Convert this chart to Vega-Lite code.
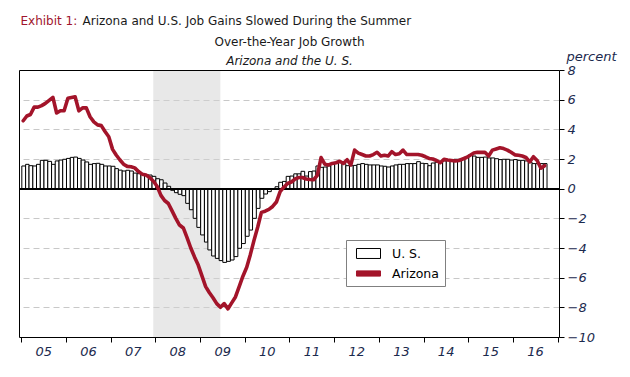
{
"$schema": "https://vega.github.io/schema/vega-lite/v6.json",
"width": 540,
"height": 267,
"autosize": {"type": "none"},
"padding": {"left": 19, "top": 70, "right": 71, "bottom": 40},
"background": "white",
"config": {"view": {"stroke": null}, "font": "DejaVu Sans", "axis": {"titleFontWeight": "normal"}},
"data": {"values": [
{"month":"2005-01-01","us":1.53,"az":4.58},{"month":"2005-02-01","us":1.64,"az":4.9},{"month":"2005-03-01","us":1.55,"az":5.0},{"month":"2005-04-01","us":1.53,"az":5.5},{"month":"2005-05-01","us":1.64,"az":5.5},{"month":"2005-06-01","us":1.91,"az":5.6},{"month":"2005-07-01","us":1.91,"az":5.75},{"month":"2005-08-01","us":1.84,"az":5.95},{"month":"2005-09-01","us":1.64,"az":6.15},{"month":"2005-10-01","us":1.87,"az":5.1},{"month":"2005-11-01","us":1.93,"az":5.25},{"month":"2005-12-01","us":1.98,"az":5.25},
{"month":"2006-01-01","us":2.04,"az":6.1},{"month":"2006-02-01","us":2.11,"az":6.15},{"month":"2006-03-01","us":2.13,"az":6.2},{"month":"2006-04-01","us":2.04,"az":5.25},{"month":"2006-05-01","us":1.93,"az":5.45},{"month":"2006-06-01","us":1.80,"az":5.45},{"month":"2006-07-01","us":1.64,"az":4.85},{"month":"2006-08-01","us":1.69,"az":4.5},{"month":"2006-09-01","us":1.71,"az":4.3},{"month":"2006-10-01","us":1.64,"az":4.25},{"month":"2006-11-01","us":1.53,"az":3.85},{"month":"2006-12-01","us":1.53,"az":3.5},
{"month":"2007-01-01","us":1.51,"az":2.65},{"month":"2007-02-01","us":1.35,"az":2.27},{"month":"2007-03-01","us":1.25,"az":1.95},{"month":"2007-04-01","us":1.19,"az":1.65},{"month":"2007-05-01","us":1.24,"az":1.5},{"month":"2007-06-01","us":1.19,"az":1.48},{"month":"2007-07-01","us":1.05,"az":1.4},{"month":"2007-08-01","us":1.01,"az":1.15},{"month":"2007-09-01","us":0.99,"az":0.98},{"month":"2007-10-01","us":0.94,"az":0.92},{"month":"2007-11-01","us":0.92,"az":0.75},{"month":"2007-12-01","us":0.83,"az":0.5},
{"month":"2008-01-01","us":0.67,"az":0.15},{"month":"2008-02-01","us":0.60,"az":-0.45},{"month":"2008-03-01","us":0.38,"az":-0.8},{"month":"2008-04-01","us":0.16,"az":-1.0},{"month":"2008-05-01","us":-0.11,"az":-1.5},{"month":"2008-06-01","us":-0.27,"az":-2.0},{"month":"2008-07-01","us":-0.38,"az":-2.45},{"month":"2008-08-01","us":-0.47,"az":-2.65},{"month":"2008-09-01","us":-0.99,"az":-3.3},{"month":"2008-10-01","us":-1.42,"az":-4.0},{"month":"2008-11-01","us":-2.0,"az":-4.6},{"month":"2008-12-01","us":-2.61,"az":-5.15},
{"month":"2009-01-01","us":-3.12,"az":-5.9},{"month":"2009-02-01","us":-3.6,"az":-6.6},{"month":"2009-03-01","us":-4.13,"az":-7.0},{"month":"2009-04-01","us":-4.54,"az":-7.35},{"month":"2009-05-01","us":-4.7,"az":-7.75},{"month":"2009-06-01","us":-4.85,"az":-8.0},{"month":"2009-07-01","us":-4.97,"az":-7.75},{"month":"2009-08-01","us":-4.9,"az":-8.1},{"month":"2009-09-01","us":-4.81,"az":-7.7},{"month":"2009-10-01","us":-4.58,"az":-7.3},{"month":"2009-11-01","us":-4.02,"az":-6.6},{"month":"2009-12-01","us":-3.7,"az":-5.9},
{"month":"2010-01-01","us":-3.21,"az":-5.3},{"month":"2010-02-01","us":-2.79,"az":-4.45},{"month":"2010-03-01","us":-2.0,"az":-3.5},{"month":"2010-04-01","us":-1.33,"az":-2.6},{"month":"2010-05-01","us":-0.65,"az":-1.6},{"month":"2010-06-01","us":-0.36,"az":-1.52},{"month":"2010-07-01","us":-0.2,"az":-1.4},{"month":"2010-08-01","us":-0.02,"az":-1.2},{"month":"2010-09-01","us":0.13,"az":-0.9},{"month":"2010-10-01","us":0.43,"az":-0.2},{"month":"2010-11-01","us":0.49,"az":0.1},{"month":"2010-12-01","us":0.83,"az":0.35},
{"month":"2011-01-01","us":0.85,"az":0.45},{"month":"2011-02-01","us":1.0,"az":0.65},{"month":"2011-03-01","us":1.0,"az":0.75},{"month":"2011-04-01","us":1.17,"az":0.75},{"month":"2011-05-01","us":0.85,"az":0.65},{"month":"2011-06-01","us":1.15,"az":0.62},{"month":"2011-07-01","us":1.19,"az":0.6},{"month":"2011-08-01","us":1.53,"az":0.9},{"month":"2011-09-01","us":1.44,"az":2.1},{"month":"2011-10-01","us":1.46,"az":1.65},{"month":"2011-11-01","us":1.53,"az":1.6},{"month":"2011-12-01","us":1.73,"az":1.7},
{"month":"2012-01-01","us":1.78,"az":1.75},{"month":"2012-02-01","us":1.78,"az":1.85},{"month":"2012-03-01","us":1.69,"az":1.7},{"month":"2012-04-01","us":1.55,"az":1.95},{"month":"2012-05-01","us":1.55,"az":1.6},{"month":"2012-06-01","us":1.57,"az":2.6},{"month":"2012-07-01","us":1.64,"az":2.4},{"month":"2012-08-01","us":1.69,"az":2.3},{"month":"2012-09-01","us":1.64,"az":2.2},{"month":"2012-10-01","us":1.6,"az":2.2},{"month":"2012-11-01","us":1.6,"az":2.3},{"month":"2012-12-01","us":1.6,"az":2.45},
{"month":"2013-01-01","us":1.53,"az":2.2},{"month":"2013-02-01","us":1.51,"az":2.25},{"month":"2013-03-01","us":1.46,"az":2.2},{"month":"2013-04-01","us":1.53,"az":2.5},{"month":"2013-05-01","us":1.6,"az":2.3},{"month":"2013-06-01","us":1.64,"az":2.35},{"month":"2013-07-01","us":1.64,"az":2.6},{"month":"2013-08-01","us":1.69,"az":2.3},{"month":"2013-09-01","us":1.69,"az":2.3},{"month":"2013-10-01","us":1.69,"az":2.3},{"month":"2013-11-01","us":1.82,"az":2.3},{"month":"2013-12-01","us":1.71,"az":2.25},
{"month":"2014-01-01","us":1.69,"az":2.15},{"month":"2014-02-01","us":1.55,"az":2.04},{"month":"2014-03-01","us":1.73,"az":2.0},{"month":"2014-04-01","us":1.78,"az":1.9},{"month":"2014-05-01","us":1.84,"az":1.75},{"month":"2014-06-01","us":1.87,"az":1.98},{"month":"2014-07-01","us":1.91,"az":1.93},{"month":"2014-08-01","us":1.96,"az":1.9},{"month":"2014-09-01","us":1.98,"az":1.87},{"month":"2014-10-01","us":1.98,"az":1.9},{"month":"2014-11-01","us":1.98,"az":2.0},{"month":"2014-12-01","us":2.15,"az":2.1},
{"month":"2015-01-01","us":2.29,"az":2.25},{"month":"2015-02-01","us":2.2,"az":2.4},{"month":"2015-03-01","us":2.11,"az":2.45},{"month":"2015-04-01","us":2.11,"az":2.45},{"month":"2015-05-01","us":2.13,"az":2.45},{"month":"2015-06-01","us":2.07,"az":2.2},{"month":"2015-07-01","us":2.07,"az":2.6},{"month":"2015-08-01","us":2.02,"az":2.68},{"month":"2015-09-01","us":1.96,"az":2.76},{"month":"2015-10-01","us":1.98,"az":2.7},{"month":"2015-11-01","us":1.98,"az":2.6},{"month":"2015-12-01","us":1.93,"az":2.45},
{"month":"2016-01-01","us":1.96,"az":2.28},{"month":"2016-02-01","us":1.91,"az":2.25},{"month":"2016-03-01","us":1.91,"az":2.2},{"month":"2016-04-01","us":1.87,"az":2.1},{"month":"2016-05-01","us":1.78,"az":1.8},{"month":"2016-06-01","us":1.69,"az":2.15},{"month":"2016-07-01","us":1.69,"az":1.9},{"month":"2016-08-01","us":1.69,"az":1.38},{"month":"2016-09-01","us":1.69,"az":1.55}
]},
"layer": [
{
 "data": {"values": [{"start": "2007-12-15", "end": "2009-06-15"}]},
 "mark": {"type": "rect", "fill": "#d1d1d1", "opacity": 0.5},
 "encoding": {
  "x": {"field": "start", "type": "temporal",
   "scale": {"type": "utc", "domain": [{"year": 2004, "month": 12, "date": 13, "utc": true}, {"year": 2017, "month": 1, "date": 11, "utc": true}]},
   "axis": {"orient": "top", "domain": true, "domainColor": "black", "domainWidth": 1, "ticks": false, "labels": false, "grid": false, "zindex": 1,
    "title": "Over-the-Year Job Growth", "titleX": 270, "titleY": -25, "titleAlign": "center", "titleBaseline": "alphabetic", "titleAngle": 0,
    "titleFont": "DejaVu Sans", "titleFontSize": 12, "titleFontWeight": "normal", "titleColor": "#1a1a1a"}},
  "x2": {"field": "end"}
 }
},
{
 "transform": [{"fold": ["us", "az"], "as": ["series", "value"]}, {"filter": "datum.series == 'us'"}],
 "mark": {"type": "bar", "fill": "white", "strokeWidth": 1, "binSpacing": 0},
 "encoding": {
  "x": {"field": "month", "type": "temporal", "timeUnit": "utcyearmonth",
   "scale": {"type": "utc", "domain": [{"year": 2004, "month": 12, "date": 13, "utc": true}, {"year": 2017, "month": 1, "date": 11, "utc": true}]},
   "axis": {"orient": "bottom", "values": [
     {"year": 2005, "month": 1, "date": 1, "utc": true}, {"year": 2006, "month": 1, "date": 1, "utc": true}, {"year": 2007, "month": 1, "date": 1, "utc": true},
     {"year": 2008, "month": 1, "date": 1, "utc": true}, {"year": 2009, "month": 1, "date": 1, "utc": true}, {"year": 2010, "month": 1, "date": 1, "utc": true},
     {"year": 2011, "month": 1, "date": 1, "utc": true}, {"year": 2012, "month": 1, "date": 1, "utc": true}, {"year": 2013, "month": 1, "date": 1, "utc": true},
     {"year": 2014, "month": 1, "date": 1, "utc": true}, {"year": 2015, "month": 1, "date": 1, "utc": true}, {"year": 2016, "month": 1, "date": 1, "utc": true},
     {"year": 2017, "month": 1, "date": 1, "utc": true}],
    "format": "%y", "labelExpr": "utcyear(datum.value) > 2016 ? '' : datum.label",
    "labelOffset": 22, "labelAlign": "center", "labelFont": "DejaVu Sans", "labelFontStyle": "italic", "labelFontSize": 13, "labelColor": "#1b2a4e",
    "labelPadding": 3, "labelFlush": false, "labelOverlap": false, "labelBound": false,
    "tickSize": 5, "tickColor": "black", "domainColor": "black", "grid": false, "title": null, "zindex": 1}},
  "y": {"field": "value", "type": "quantitative",
   "scale": {"domain": [-10, 8], "nice": false, "zero": false},
   "axis": {"orient": "right", "values": [-10, -8, -6, -4, -2, 0, 2, 4, 6, 8],
    "grid": true, "gridDash": [6, 4], "gridColor": "#c8c8c8", "gridWidth": 1,
    "domainColor": "black", "tickColor": "black", "tickSize": 5,
    "labelFont": "DejaVu Sans", "labelFontStyle": "italic", "labelFontSize": 13, "labelColor": "#1b2a4e", "labelPadding": 3, "labelFlush": false, "labelOverlap": false,
    "title": "percent", "titleAngle": 0, "titleAlign": "left", "titleBaseline": "alphabetic", "titleX": 7, "titleY": -10,
    "titleFont": "DejaVu Sans", "titleFontStyle": "italic", "titleFontSize": 13, "titleFontWeight": "normal", "titleColor": "#1b2a4e"}},
  "stroke": {"field": "series", "type": "nominal",
   "scale": {"domain": ["us", "az"], "range": ["black", "#a3142a"]},
   "legend": {"orient": "none", "legendX": 327, "legendY": 170, "title": null, "direction": "vertical",
    "padding": 6, "rowPadding": 5, "strokeColor": "#808080", "fillColor": "white",
    "symbolSize": 196, "labelOffset": 25, "labelFont": "DejaVu Sans", "labelFontSize": 12.5, "labelColor": "black",
    "labelExpr": "datum.value == 'us' ? 'U. S.' : 'Arizona'",
    "encode": {"symbols": {"update": {
      "shape": {"signal": "datum.value == 'az' ? 'M-0.43,-0.37H3.0V0.37H-0.43Z' : 'M-0.43,-0.71H3.0V0.71H-0.43Z'"},
      "fill": {"signal": "datum.value == 'az' ? '#a3142a' : 'white'"},
      "stroke": {"signal": "datum.value == 'az' ? '#a3142a' : 'black'"},
      "strokeWidth": {"value": 1}, "fillOpacity": {"value": 1}, "strokeOpacity": {"value": 1}, "opacity": {"value": 1}}}}}}
 }
},
{
 "mark": {"type": "rule", "color": "black", "strokeWidth": 1.5},
 "encoding": {
  "y": {"datum": 0, "type": "quantitative",
   "scale": {"domain": [-10, 8], "nice": false, "zero": false},
   "axis": {"orient": "left", "domain": false, "ticks": false, "labels": false, "grid": false,
    "title": "Arizona and U.S. Job Gains Slowed During the Summer", "titleAngle": 0, "titleX": 63, "titleY": -46, "titleAlign": "left", "titleBaseline": "alphabetic",
    "titleFont": "DejaVu Sans", "titleFontSize": 12, "titleFontWeight": "normal", "titleColor": "#1a1a1a"}}
 }
},
{
 "transform": [{"fold": ["us", "az"], "as": ["series", "value"]}, {"filter": "datum.series == 'az'"}],
 "mark": {"type": "line", "strokeWidth": 3.6, "strokeJoin": "round", "strokeCap": "round"},
 "encoding": {
  "x": {"field": "month", "type": "temporal", "timeUnit": "utcyearmonth", "bandPosition": 0.5,
   "scale": {"type": "utc", "domain": [{"year": 2004, "month": 12, "date": 13, "utc": true}, {"year": 2017, "month": 1, "date": 11, "utc": true}]},
   "axis": {"orient": "top", "domain": false, "ticks": false, "labels": false, "grid": false,
    "title": "Arizona and the U. S.", "titleX": 270, "titleY": -6, "titleAlign": "center", "titleBaseline": "alphabetic", "titleAngle": 0,
    "titleFont": "DejaVu Sans", "titleFontStyle": "italic", "titleFontSize": 12, "titleFontWeight": "normal", "titleColor": "#1a1a1a"}},
  "y": {"field": "value", "type": "quantitative",
   "scale": {"domain": [-10, 8], "nice": false, "zero": false},
   "axis": {"orient": "left", "domain": true, "domainColor": "black", "ticks": false, "labels": false, "grid": false, "zindex": 1,
    "title": "Exhibit 1:", "titleAngle": 0, "titleX": 1, "titleY": -46, "titleAlign": "left", "titleBaseline": "alphabetic",
    "titleFont": "DejaVu Sans", "titleFontSize": 12, "titleFontWeight": "normal", "titleColor": "#a0152d"}},
  "stroke": {"field": "series", "type": "nominal",
   "scale": {"domain": ["us", "az"], "range": ["black", "#a3142a"]},
   "legend": {"orient": "none", "legendX": 327, "legendY": 170, "title": null, "direction": "vertical",
    "padding": 6, "rowPadding": 5, "strokeColor": "#808080", "fillColor": "white",
    "symbolSize": 196, "labelOffset": 25, "labelFont": "DejaVu Sans", "labelFontSize": 12.5, "labelColor": "black",
    "labelExpr": "datum.value == 'us' ? 'U. S.' : 'Arizona'",
    "encode": {"symbols": {"update": {
      "shape": {"signal": "datum.value == 'az' ? 'M-0.43,-0.37H3.0V0.37H-0.43Z' : 'M-0.43,-0.71H3.0V0.71H-0.43Z'"},
      "fill": {"signal": "datum.value == 'az' ? '#a3142a' : 'white'"},
      "stroke": {"signal": "datum.value == 'az' ? '#a3142a' : 'black'"},
      "strokeWidth": {"value": 1}, "fillOpacity": {"value": 1}, "strokeOpacity": {"value": 1}, "opacity": {"value": 1}}}}}}
 }
}
],
"resolve": {"axis": {"x": "independent", "y": "independent"}}
}
